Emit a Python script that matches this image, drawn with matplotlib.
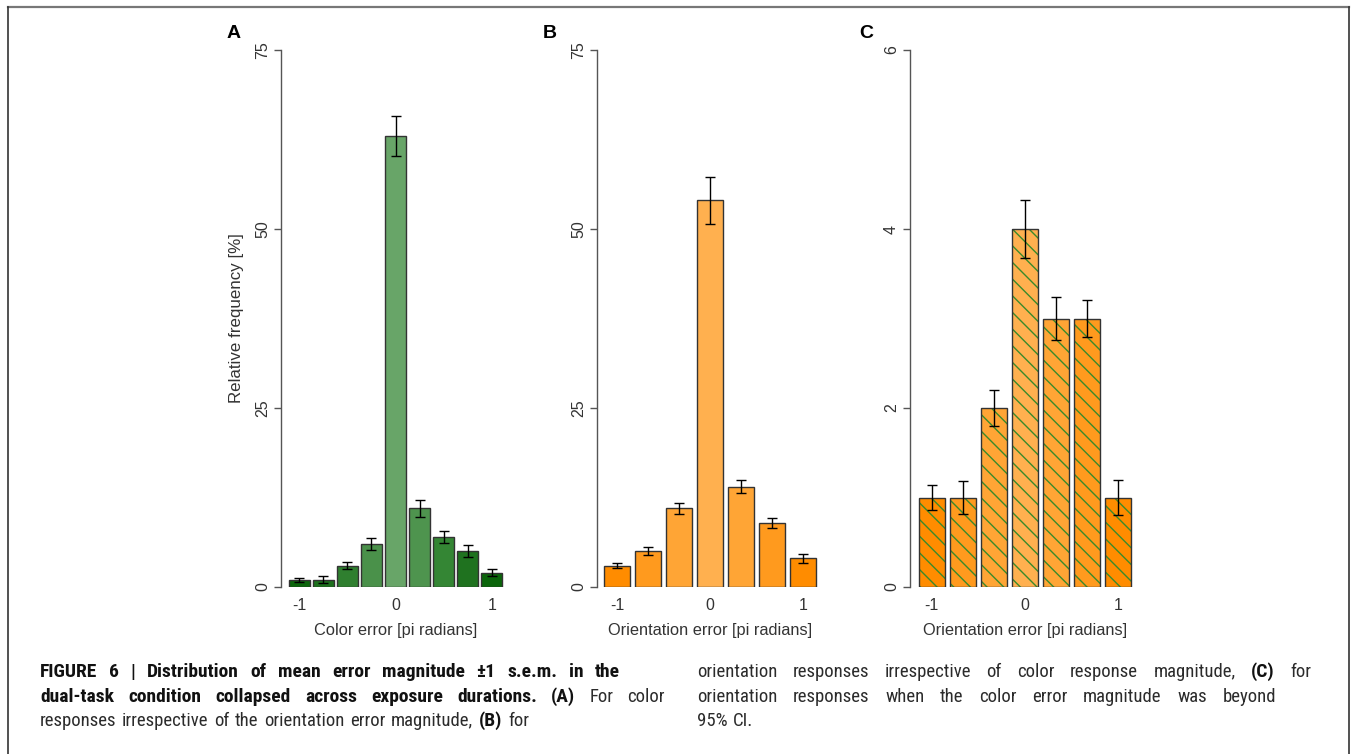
import matplotlib
matplotlib.use('Agg')
import matplotlib.pyplot as plt
from matplotlib import font_manager
from matplotlib.lines import Line2D

W, H = 1355, 754

# panel A: colour error, 9 bins
a_x = [-1, -0.75, -0.5, -0.25, 0, 0.25, 0.5, 0.75, 1]
a_vals = [1, 1, 3, 6, 63, 11, 7, 5, 2]
a_err = [0.3, 0.5, 0.5, 0.9, 2.8, 1.2, 0.85, 0.85, 0.5]
a_colors = ['#0b650b', '#1d701d', '#2f7f2f', '#4a914a', '#68a568',
            '#4e944e', '#348634', '#1f721f', '#0a650a']

# panel B: orientation error, 7 bins
b_x = [-1, -2 / 3, -1 / 3, 0, 1 / 3, 2 / 3, 1]
b_vals = [3, 5, 11, 54, 14, 9, 4]
b_err = [0.4, 0.6, 0.8, 3.3, 0.9, 0.7, 0.65]
b_colors = ['#ff8c00', '#ff9a1e', '#ffa535', '#ffb04f', '#ffa535', '#ff9a1e', '#ff8c00']

# panel C: orientation error when colour error beyond 95% CI
c_x = b_x
c_vals = [1, 1, 2, 4, 3, 3, 1]
c_err = [0.14, 0.18, 0.2, 0.32, 0.24, 0.21, 0.2]
c_colors = b_colors

x_ticks = [-1, 0, 1]
x_ticklabels = ['-1', '0', '1']

plt.rcParams['font.family'] = ['Liberation Sans', 'DejaVu Sans']
plt.rcParams['hatch.linewidth'] = 1.0

# look for a narrow face for the caption, else fall back
names = {f.name for f in font_manager.fontManager.ttflist}
cap_font, bold_size, reg_size = 'Liberation Sans', 11.5, 11.5
for cand in ['Roboto Condensed', 'Liberation Sans Narrow', 'Open Sans Condensed']:
    if cand in names:
        cap_font, bold_size, reg_size = cand, 14, 13.5
        break

fig = plt.figure(figsize=(W / 100, H / 100), dpi=100)


def px_axes(left, top, right, bottom):
    return fig.add_axes([left / W, 1 - bottom / H, (right - left) / W, (bottom - top) / H])


def style(ax, xlim, ylim, yticks, xlabel):
    ax.set_xlim(*xlim)
    ax.set_ylim(*ylim)
    for s in ['top', 'right', 'bottom']:
        ax.spines[s].set_visible(False)
    ax.spines['left'].set_color('#555555')
    ax.spines['left'].set_linewidth(1)
    ax.set_yticks(yticks)
    ax.set_yticklabels([str(t) for t in yticks], rotation=90, va='center')
    ax.tick_params(axis='y', length=5, width=1, color='#555555', labelsize=11.5,
                   labelcolor='#333333', pad=3)
    ax.set_xticks(x_ticks)
    ax.set_xticklabels(x_ticklabels)
    ax.tick_params(axis='x', length=0, labelsize=11.5, labelcolor='#333333', pad=8)
    ax.set_xlabel(xlabel, fontsize=11.8, color='#333333', labelpad=7)
    ax.patch.set_visible(False)


# A
ax = px_axes(281, 50, 510, 587)
ax.bar(a_x, a_vals, 0.22, color=a_colors, edgecolor='#333333', linewidth=1)
ax.errorbar(a_x, a_vals, yerr=a_err, fmt='none', ecolor='black', elinewidth=1,
            capsize=3.6, capthick=1)
style(ax, (-1.19, 1.19), (0, 75), [0, 25, 50, 75], 'Color error [pi radians]')
ax.set_ylabel('Relative frequency [%]', fontsize=12.2, color='#333333', labelpad=8)

# B
ax = px_axes(597, 50, 823, 587)
ax.bar(b_x, b_vals, 0.28, color=b_colors, edgecolor='#333333', linewidth=1)
ax.errorbar(b_x, b_vals, yerr=b_err, fmt='none', ecolor='black', elinewidth=1,
            capsize=3.6, capthick=1)
style(ax, (-1.215, 1.215), (0, 75), [0, 25, 50, 75], 'Orientation error [pi radians]')

# C (hatched)
ax = px_axes(910, 50, 1139.5, 587)
ax.bar(c_x, c_vals, 0.28, color=c_colors, edgecolor='#3a8a2a', linewidth=0, hatch='\\\\')
ax.bar(c_x, c_vals, 0.28, facecolor='none', edgecolor='#333333', linewidth=1)
ax.errorbar(c_x, c_vals, yerr=c_err, fmt='none', ecolor='black', elinewidth=1,
            capsize=3.6, capthick=1)
style(ax, (-1.234, 1.234), (0, 6), [0, 2, 4, 6], 'Orientation error [pi radians]')

# panel letters
for letter, px in [('A', 234), ('B', 550), ('C', 866)]:
    fig.text(px / W, 1 - 33 / H, letter, fontsize=14, fontweight='bold',
             ha='center', va='center')

# frame
fig.add_artist(Line2D([8 / W, 1349 / W], [1 - 7 / H, 1 - 7 / H], color='#777777',
                      lw=1.6, transform=fig.transFigure))
for xp in [8, 1349]:
    fig.add_artist(Line2D([xp / W, xp / W], [1 - 7 / H, 0], color='#333333',
                          lw=1.2, transform=fig.transFigure))

# caption, set word by word so lines can be justified
renderer = fig.canvas.get_renderer()


def caption_line(segments, x0, y, x1=None):
    words = []
    for txt, bold in segments:
        for w in txt.split():
            words.append((w, bold))
    texts = [fig.text(0, 1 - y / H, w, family=cap_font,
                      fontsize=bold_size if b else reg_size,
                      fontweight='bold' if b else 'normal',
                      color='#111111' if b else '#2b2b2b',
                      ha='left', va='center') for w, b in words]
    widths = [t.get_window_extent(renderer).width for t in texts]
    gap = reg_size * 100 / 72 * 0.3
    if x1 is not None:
        gap = max((x1 - x0 - sum(widths)) / max(len(texts) - 1, 1), gap * 0.6)
    x = x0
    for t, w in zip(texts, widths):
        t.set_x(x / W)
        x += w + gap


caption_line([('FIGURE 6 | Distribution of mean error magnitude \u00b11 s.e.m. in the', True)],
             40, 672, 620)
caption_line([('dual-task condition collapsed across exposure durations. (A)', True),
              ('For color', False)], 40, 697, 665)
caption_line([('responses irrespective of the orientation error magnitude,', False),
              ('(B)', True), ('for', False)], 40, 721)
caption_line([('orientation responses irrespective of color response magnitude,', False),
              ('(C)', True), ('for', False)], 697, 672, 1311)
caption_line([('orientation responses when the color error magnitude was beyond', False)],
             697, 697, 1276)
caption_line([('95% CI.', False)], 697, 721)

fig.savefig('out.png', dpi=100)
